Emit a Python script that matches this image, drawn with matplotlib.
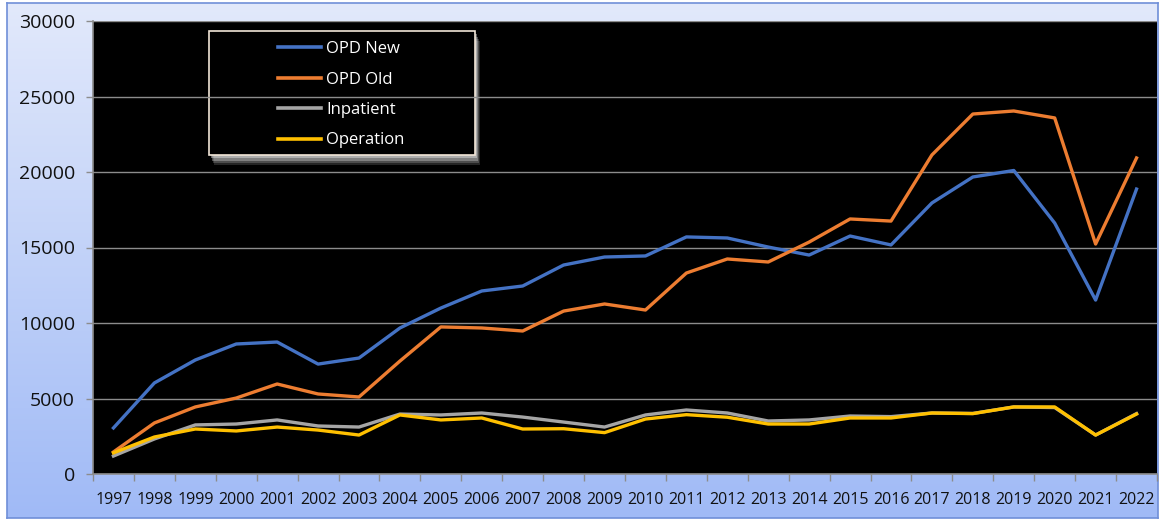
import matplotlib
matplotlib.use("Agg")
import matplotlib.pyplot as plt
import numpy as np
from matplotlib.patches import Rectangle
import matplotlib.patheffects as pe

plt.rcParams["font.family"] = ["Open Sans", "DejaVu Sans"]

years = [str(y) for y in range(1997, 2023)]
opd_new = [3050, 6030, 7550, 8610, 8740, 7280, 7680, 9670, 10990, 12120, 12450, 13840,
           14370, 14440, 15700, 15630, 15030, 14500, 15760, 15170, 17950, 19670, 20100,
           16620, 11520, 18870]
opd_old = [1460, 3380, 4440, 5030, 5960, 5300, 5100, 7480, 9740, 9670, 9470, 10790,
           11260, 10860, 13310, 14240, 14040, 15360, 16890, 16750, 21130, 23840, 24040,
           23580, 15230, 20930]
inpatient = [1190, 2320, 3250, 3310, 3580, 3180, 3110, 3970, 3910, 4040, 3770, 3440,
             3110, 3910, 4240, 4040, 3510, 3580, 3840, 3800, 4040, 4010, 4440, 4400,
             2580, 4000]
operation = [1400, 2450, 2980, 2850, 3110, 2910, 2580, 3910, 3580, 3710, 2980, 3000,
             2740, 3640, 3930, 3760, 3310, 3310, 3710, 3710, 4040, 4000, 4440, 4440,
             2580, 3970]

series = [("OPD New", opd_new, "#4472C4"),
          ("OPD Old", opd_old, "#ED7D31"),
          ("Inpatient", inpatient, "#A5A5A5"),
          ("Operation", operation, "#FFC000")]

W, H = 1160, 520
fig = plt.figure(figsize=(W / 100, H / 100), dpi=100)
fig.patch.set_facecolor("white")

# gradient background panel
bg = fig.add_axes([7 / W, 2 / H, (1158 - 7) / W, (518 - 3) / H])
grad = np.linspace(0, 1, 256).reshape(-1, 1)
top = np.array([0xe2, 0xe9, 0xfb]) / 255
bot = np.array([0xa0, 0xba, 0xf6]) / 255
img = top[None, None, :] * (1 - grad[:, :, None]) + bot[None, None, :] * grad[:, :, None]
bg.imshow(img, aspect="auto", extent=[0, 1, 0, 1], origin="upper")
bg.set_xticks([]); bg.set_yticks([])
for s in bg.spines.values():
    s.set_color("#6f8fd8")
    s.set_linewidth(1.2)
bg.set_zorder(0)

ax = fig.add_axes([93 / W, (H - 474) / H, (1157 - 93) / W, (474 - 21) / H])
ax.set_zorder(1)
ax.set_facecolor("black")
x = np.arange(len(years))

ax.set_xlim(-0.5, len(years) - 0.5)
ax.set_ylim(0, 30000)
ax.set_yticks(np.arange(0, 30001, 5000))
ax.grid(axis="y", color="#8c8c8c", linewidth=1.0, zorder=2)
ax.set_axisbelow(False)

# legend frame drawn manually (white border with soft light glow)
lx0, lx1 = (209 - 93) / 1064, (475 - 93) / 1064
ly0, ly1 = (474 - 155) / 453, (474 - 31) / 453
shadow_fx = []
for k, a in [(7, 0.15), (5.5, 0.2), (4, 0.3), (2.5, 0.4)]:
    shadow_fx.append(pe.SimplePatchShadow(offset=(k * 0.5, -k), shadow_rgbFace="#f4f4f4", alpha=a))
frame = Rectangle((lx0, ly0), lx1 - lx0, ly1 - ly0, transform=ax.transAxes,
                  facecolor="black", edgecolor="#f2e6d8", linewidth=1.2, zorder=1.5)
frame.set_path_effects(shadow_fx + [pe.Normal()])
ax.add_patch(frame)

for name, vals, col in series:
    ax.plot(x, vals, color=col, linewidth=2.4, label=name, zorder=3)

leg = ax.legend(loc="upper left", bbox_to_anchor=((278 - 93) / 1064, (474 - 41) / 453),
                frameon=False, labelspacing=0.87, handlelength=2.6,
                handletextpad=0.3, borderaxespad=0, borderpad=0,
                prop={"family": "Open Sans", "size": 12})
for t in leg.get_texts():
    t.set_color("white")
for lh in leg.legend_handles:
    lh.set_linewidth(2.6)

# spines and ticks
for side in ["top", "right"]:
    ax.spines[side].set_visible(False)
for side in ["left", "bottom"]:
    ax.spines[side].set_color("#8c8c8c")
    ax.spines[side].set_linewidth(1.2)

ax.set_xticks(x)
ax.set_xticklabels(years)
ax.set_xticks(np.arange(-0.5, len(years), 1), minor=True)
ax.tick_params(axis="x", which="major", length=0, pad=13, labelsize=11.5, labelcolor="#111111")
ax.tick_params(axis="x", which="minor", length=5, color="#8c8c8c", width=1)
ax.tick_params(axis="y", length=5, color="#8c8c8c", width=1, pad=8, labelsize=14,
               labelcolor="#111111")

fig.savefig("out.png", dpi=100, facecolor=fig.get_facecolor())
